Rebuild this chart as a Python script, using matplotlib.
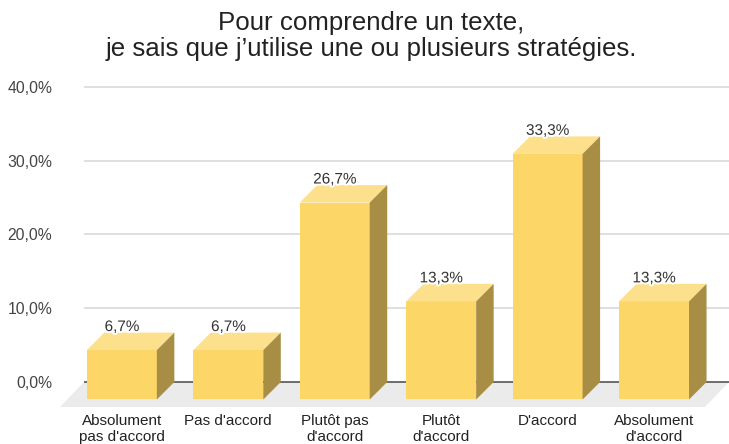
import matplotlib.pyplot as plt
import matplotlib.patheffects as pe
from matplotlib.patches import Polygon
from matplotlib.ticker import FuncFormatter

plt.rcParams['font.family'] = ['Liberation Sans', 'DejaVu Sans']

# data
categories = ["Absolument\npas d'accord", "Pas d'accord", "Plutôt pas\nd'accord",
              "Plutôt\nd'accord", "D'accord", "Absolument\nd'accord"]
values = [6.7, 6.7, 26.7, 13.3, 33.3, 13.3]
yticks = [0, 10, 20, 30, 40]
title = "Pour comprendre un texte,\nje sais que j’utilise une ou plusieurs stratégies."

W, H = 729, 444
fig = plt.figure(figsize=(W / 100, H / 100), dpi=100)

# axes placed in pixels so the 3d depth can be converted to data units
ax_left, ax_right = 84, 729
ax_top, ax_bottom = 79.6, 411.5
ax = fig.add_axes([ax_left / W, (H - ax_bottom) / H,
                   (ax_right - ax_left) / W, (ax_bottom - ax_top) / H])
xlim = (-0.52, 5.54)
ylim = (-4, 41)
ax.set_xlim(*xlim)
ax.set_ylim(*ylim)

px_x = (ax_right - ax_left) / (xlim[1] - xlim[0])
px_y = (ax_bottom - ax_top) / (ylim[1] - ylim[0])
depth = 17.5
ddx, ddy = depth / px_x, depth / px_y
fdx, fdy = 24 / px_x, 25 / px_y
width = 70 / px_x

front_c = '#fcd667'
top_c = '#fde08c'
side_c = '#a88d44'

for s in ax.spines.values():
    s.set_visible(False)

# floor
ax.add_patch(Polygon([(xlim[0], 0), (xlim[1], 0), (xlim[1] - fdx, -fdy),
                      (xlim[0] - fdx, -fdy)], closed=True, facecolor='#ebebeb',
                     edgecolor='none', zorder=0.5, clip_on=False))

# grid
for t in yticks[1:]:
    ax.axhline(t, color='#d9d9d9', lw=1.2, zorder=0.6)
ax.axhline(0, color='#555555', lw=1.2, zorder=0.7)

x = list(range(len(values)))
bars = ax.bar([i - ddx for i in x], values, bottom=-ddy, width=width,
              color=front_c, edgecolor='none', zorder=3)

for i, v in zip(x, values):
    x0, x1 = i - width / 2, i + width / 2
    ax.add_patch(Polygon([(x0 - ddx, v - ddy), (x1 - ddx, v - ddy), (x1, v), (x0, v)],
                         closed=True, facecolor=top_c, edgecolor='none', zorder=3))
    ax.add_patch(Polygon([(x1 - ddx, -ddy), (x1, 0), (x1, v), (x1 - ddx, v - ddy)],
                         closed=True, facecolor=side_c, edgecolor='none', zorder=3))
    txt = ax.annotate(f"{v:.1f}%".replace('.', ','), (i - ddx, v), xytext=(0, 4),
                      textcoords='offset points', ha='center', va='center',
                      fontsize=11, color='#333333', zorder=4)
    txt.set_path_effects([pe.withStroke(linewidth=3, foreground='white')])

ax.set_yticks(yticks)
ax.yaxis.set_major_formatter(FuncFormatter(lambda v, p: f"{v:.1f}%".replace('.', ',')))
ax.tick_params(axis='y', length=0, pad=23, labelsize=11.3, labelcolor='#444444')

ax.set_xticks([i - ddx for i in x])
ax.set_xticklabels(categories, fontsize=11, color='#222222', linespacing=1.15)
ax.tick_params(axis='x', length=0, pad=2)

fig.text(0.509, 0.976, title, ha='center', va='top', fontsize=18.6, color='#222222',
         linespacing=1.1)

fig.savefig('out.png', dpi=100)
